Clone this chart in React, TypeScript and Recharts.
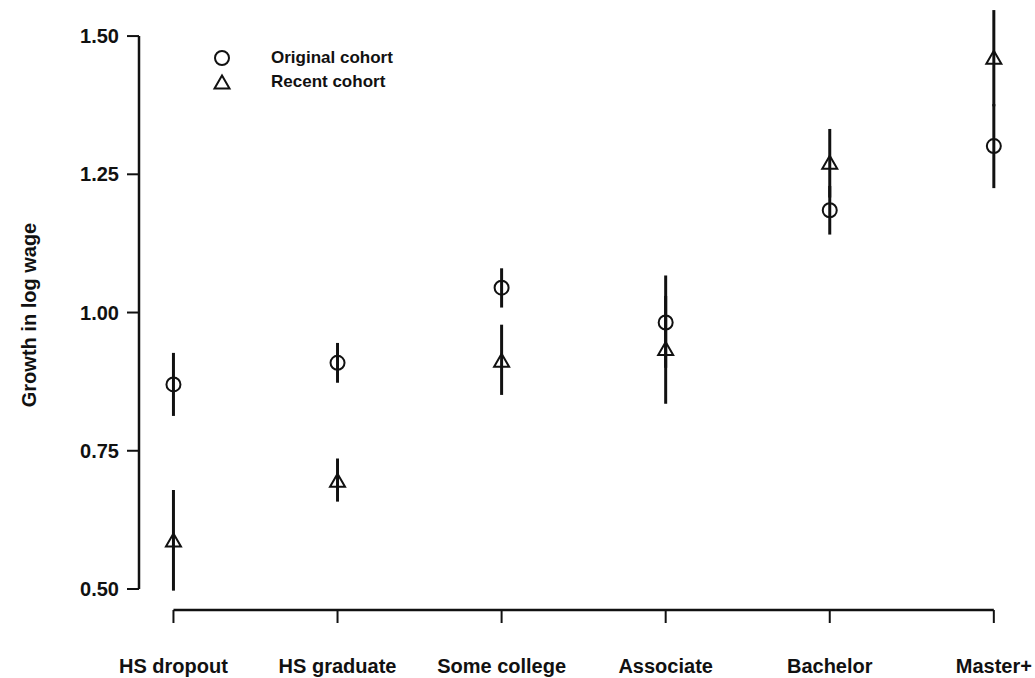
import React from 'react'
import { ErrorBar, Legend, ReferenceLine, Scatter, ScatterChart, XAxis, YAxis } from 'recharts'

const categories = ['HS dropout', 'HS graduate', 'Some college', 'Associate', 'Bachelor', 'Master+']

// growth in log wage, with the ends of each vertical bar
const originalCohort = [0.87, 0.909, 1.045, 0.982, 1.185, 1.301]
const originalLow = [0.813, 0.873, 1.009, 0.9, 1.141, 1.225]
const originalHigh = [0.927, 0.945, 1.08, 1.067, 1.229, 1.377]

const recentCohort = [0.587, 0.695, 0.912, 0.933, 1.27, 1.46]
const recentLow = [0.497, 0.658, 0.851, 0.835, 1.208, 1.373]
const recentHigh = [0.679, 0.736, 0.978, 1.03, 1.332, 1.547]

const yTicks = [0.5, 0.75, 1.0, 1.25, 1.5]
const xTicks = categories.map((_c, i) => i)

const xDomain = [-0.21, 5.19]
const yDomain = [0.462, 1.558]

const ink = '#111'
const font = '"Liberation Sans", Arial, Helvetica, sans-serif'

function toRows(values: number[], low: number[], high: number[]) {
  return values.map((y, i) => ({ x: i, y, err: [y - low[i], high[i] - y] }))
}

const originalRows = toRows(originalCohort, originalLow, originalHigh)
const recentRows = toRows(recentCohort, recentLow, recentHigh)

function CircleMark({ cx, cy }: any) {
  return <circle cx={cx} cy={cy} r={7} fill='none' stroke={ink} strokeWidth={2} />
}

function TriangleMark({ cx, cy }: any) {
  return (
    <path
      d={`M${cx},${cy - 7.5}L${cx + 7.5},${cy + 5.5}L${cx - 7.5},${cy + 5.5}Z`}
      fill='none'
      stroke={ink}
      strokeWidth={2}
    />
  )
}

function CohortLegend({ payload }: any) {
  return (
    <div style={{ fontFamily: font, fontSize: 17, fontWeight: 'bold', color: ink }}>
      {(payload || []).map((entry: any) => (
        <div key={entry.value} style={{ display: 'flex', alignItems: 'center', height: 24 }}>
          <svg width={20} height={20} style={{ marginRight: 39 }}>
            {entry.value === 'Original cohort' ? <CircleMark cx={10} cy={10} /> : <TriangleMark cx={10} cy={11} />}
          </svg>
          <span>{entry.value}</span>
        </div>
      ))}
    </div>
  )
}

function YTitle({ viewBox }: any) {
  const x = viewBox.x - 50
  const y = viewBox.y + viewBox.height / 2 + 8
  return (
    <text
      x={x}
      y={y}
      transform={`rotate(-90, ${x}, ${y})`}
      textAnchor='middle'
      dominantBaseline='central'
      fill={ink}
      fontSize={20}
      fontWeight='bold'
      fontFamily={font}
    >
      Growth in log wage
    </text>
  )
}

export default function App() {
  return (
    <div style={{ position: 'absolute', left: 0, top: 0, fontFamily: font }}>
      <ScatterChart width={1035} height={678} margin={{ top: 4, right: 10, bottom: 0, left: 79 }}>
        <XAxis
          type='number'
          dataKey='x'
          domain={xDomain}
          allowDataOverflow
          ticks={xTicks}
          interval={0}
          tickFormatter={(i: number) => categories[i]}
          height={68}
          axisLine={false}
          tickSize={13}
          tickMargin={36}
          tickLine={{ stroke: ink, strokeWidth: 2 }}
          tick={{ fill: ink, fontSize: 20, fontWeight: 'bold', fontFamily: font }}
        />
        <YAxis
          type='number'
          dataKey='y'
          domain={yDomain}
          allowDataOverflow
          ticks={yTicks}
          interval={0}
          tickFormatter={(v: number) => v.toFixed(2)}
          width={60}
          axisLine={false}
          tickSize={12}
          tickMargin={8}
          tickLine={{ stroke: ink, strokeWidth: 2 }}
          tick={{ fill: ink, fontSize: 20, fontWeight: 'bold', fontFamily: font }}
          label={<YTitle />}
        />
        <ReferenceLine
          segment={[
            { x: xDomain[0], y: yTicks[0] },
            { x: xDomain[0], y: yTicks[yTicks.length - 1] },
          ]}
          stroke={ink}
          strokeWidth={2.5}
          ifOverflow='visible'
        />
        <ReferenceLine
          segment={[
            { x: xTicks[0], y: yDomain[0] },
            { x: xTicks[xTicks.length - 1], y: yDomain[0] },
          ]}
          stroke={ink}
          strokeWidth={2.5}
          ifOverflow='visible'
        />
        <Legend
          layout='horizontal'
          verticalAlign='middle'
          align='center'
          wrapperStyle={{ left: 212, top: 46, width: 'auto' }}
          content={<CohortLegend />}
        />
        <Scatter name='Original cohort' data={originalRows} shape={<CircleMark />} isAnimationActive={false}>
          <ErrorBar dataKey='err' direction='y' width={0} stroke={ink} strokeWidth={3} isAnimationActive={false} />
        </Scatter>
        <Scatter name='Recent cohort' data={recentRows} shape={<TriangleMark />} isAnimationActive={false}>
          <ErrorBar dataKey='err' direction='y' width={0} stroke={ink} strokeWidth={3} isAnimationActive={false} />
        </Scatter>
      </ScatterChart>
    </div>
  )
}
